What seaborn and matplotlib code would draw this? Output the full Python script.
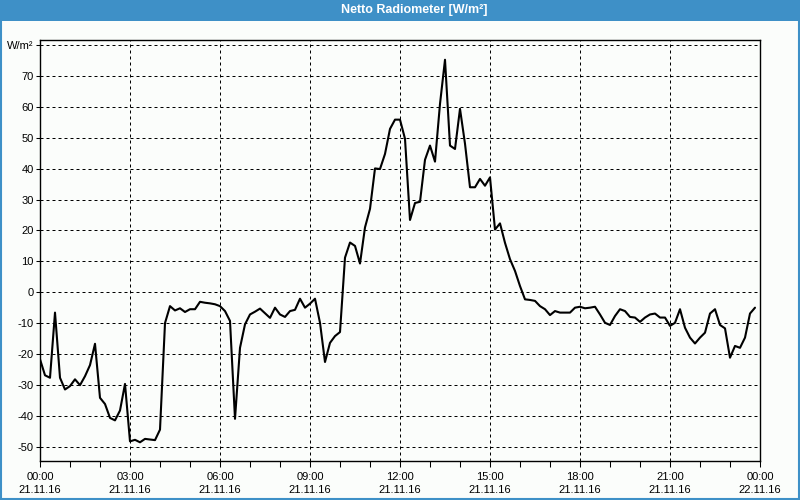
import numpy as np
import pandas as pd
import matplotlib
matplotlib.use("Agg")
import matplotlib.pyplot as plt
import seaborn as sns
from matplotlib.patches import Rectangle
from matplotlib.ticker import MultipleLocator

# ---- data (10-minute samples starting 21.11.16 00:00) ----
sample_step_min = 10
radiation = [
    -21.7, -26.9, -27.7, -6.6, -27.7, -31.5, -30.4, -28.2, -30.1, -27.2,
    -23.6, -16.7, -34.2, -36.2, -40.7, -41.5, -38.3, -29.7, -48.3, -47.8,
    -48.6, -47.5, -47.7, -47.9, -44.5, -10.0, -4.5, -5.9, -5.2, -6.4,
    -5.5, -5.5, -3.1, -3.4, -3.6, -3.9, -4.5, -6.1, -9.3, -41.0,
    -18.0, -10.4, -7.2, -6.3, -5.3, -6.8, -8.3, -5.0, -7.2, -8.0,
    -6.1, -5.7, -2.1, -5.0, -3.7, -2.1, -9.9, -22.6, -16.4, -14.2,
    -12.9, 11.2, 16.1, 15.0, 9.3, 21.0, 27.0, 40.1, 39.9, 44.8,
    52.9, 55.9, 55.9, 49.7, 23.4, 28.9, 29.3, 42.9, 47.5, 42.3,
    61.0, 75.3, 47.5, 46.4, 59.4, 48.1, 34.0, 34.0, 36.7, 34.5,
    37.2, 20.3, 22.3, 16.0, 10.7, 6.9, 2.0, -2.3, -2.5, -2.8,
    -4.5, -5.5, -7.4, -6.1, -6.6, -6.6, -6.6, -5.0, -4.7, -5.2,
    -5.0, -4.7, -7.2, -9.9, -10.6, -7.7, -5.5, -6.1, -8.0, -8.2,
    -9.6, -8.2, -7.2, -6.9, -8.2, -8.2, -10.9, -9.9, -5.5, -11.5,
    -14.7, -16.6, -14.7, -13.1, -6.9, -5.5, -10.6, -11.7, -21.2, -17.4,
    -18.0, -14.7, -6.9, -5.0,
]
x_tick_hours = [0, 3, 6, 9, 12, 15, 18, 21, 24]
x_tick_labels = ["00:00\n21.11.16", "03:00\n21.11.16", "06:00\n21.11.16",
                 "09:00\n21.11.16", "12:00\n21.11.16", "15:00\n21.11.16",
                 "18:00\n21.11.16", "21:00\n21.11.16", "00:00\n22.11.16"]
y_ticks = [-50, -40, -30, -20, -10, 0, 10, 20, 30, 40, 50, 60, 70, 80]
y_tick_labels = ["-50", "-40", "-30", "-20", "-10", "0", "10", "20", "30",
                 "40", "50", "60", "70", "W/m²"]
title = "Netto Radiometer [W/m²]"

df = pd.DataFrame({
    "hour": np.arange(len(radiation)) * sample_step_min / 60.0,
    "value": radiation,
})

# ---- style ----
sns.set_theme(style="white")
plt.rcParams["font.family"] = ["Liberation Sans", "DejaVu Sans"]

bg = "#fbfdfb"
blue = "#3e90c7"

fig = plt.figure(figsize=(8, 5), dpi=100, facecolor=bg)
ax = fig.add_axes([40 / 800, 1 - 460.5 / 500, 720 / 800, 420.2 / 500])
ax.set_facecolor(bg)

sns.lineplot(data=df, x="hour", y="value", color="black", linewidth=1.5,
             estimator=None, ax=ax)

ax.set_xlim(0, 24)
ax.set_ylim(-54.5, 81.6)
ax.set_xticks(x_tick_hours)
ax.set_xticklabels(x_tick_labels, fontsize=8, linespacing=1.45)
ax.xaxis.set_minor_locator(MultipleLocator(1))
ax.set_yticks(y_ticks)
ax.set_yticklabels(y_tick_labels, fontsize=8)
ax.set_xlabel("")
ax.set_ylabel("")

ax.grid(True, which="major", color="black", linestyle=(0, (3, 3)),
        linewidth=0.72)
ax.tick_params(axis="x", which="both", direction="out", length=4, width=0.75,
               color="black", pad=4, labelcolor="black", bottom=True)
ax.tick_params(axis="y", which="major", direction="out", length=3, width=0.75,
               color="black", pad=1.5, labelcolor="black", left=True)
for s in ax.spines.values():
    s.set_color("black")
    s.set_linewidth(1.0)

# title bar
fig.patches.append(Rectangle((0, 1 - 20.5 / 500), 1, 20.5 / 500,
                             transform=fig.transFigure, facecolor=blue,
                             edgecolor="none", zorder=0))
fig.patches.append(Rectangle((0.001, 0.002), 0.998, 0.996,
                             transform=fig.transFigure, facecolor="none",
                             edgecolor=blue, linewidth=1.5, zorder=1))
fig.text(414 / 800, 1 - 10.5 / 500, title, color="white", fontsize=9,
         fontweight="bold", ha="center", va="center")

fig.savefig("out.png", dpi=100, facecolor=bg)
